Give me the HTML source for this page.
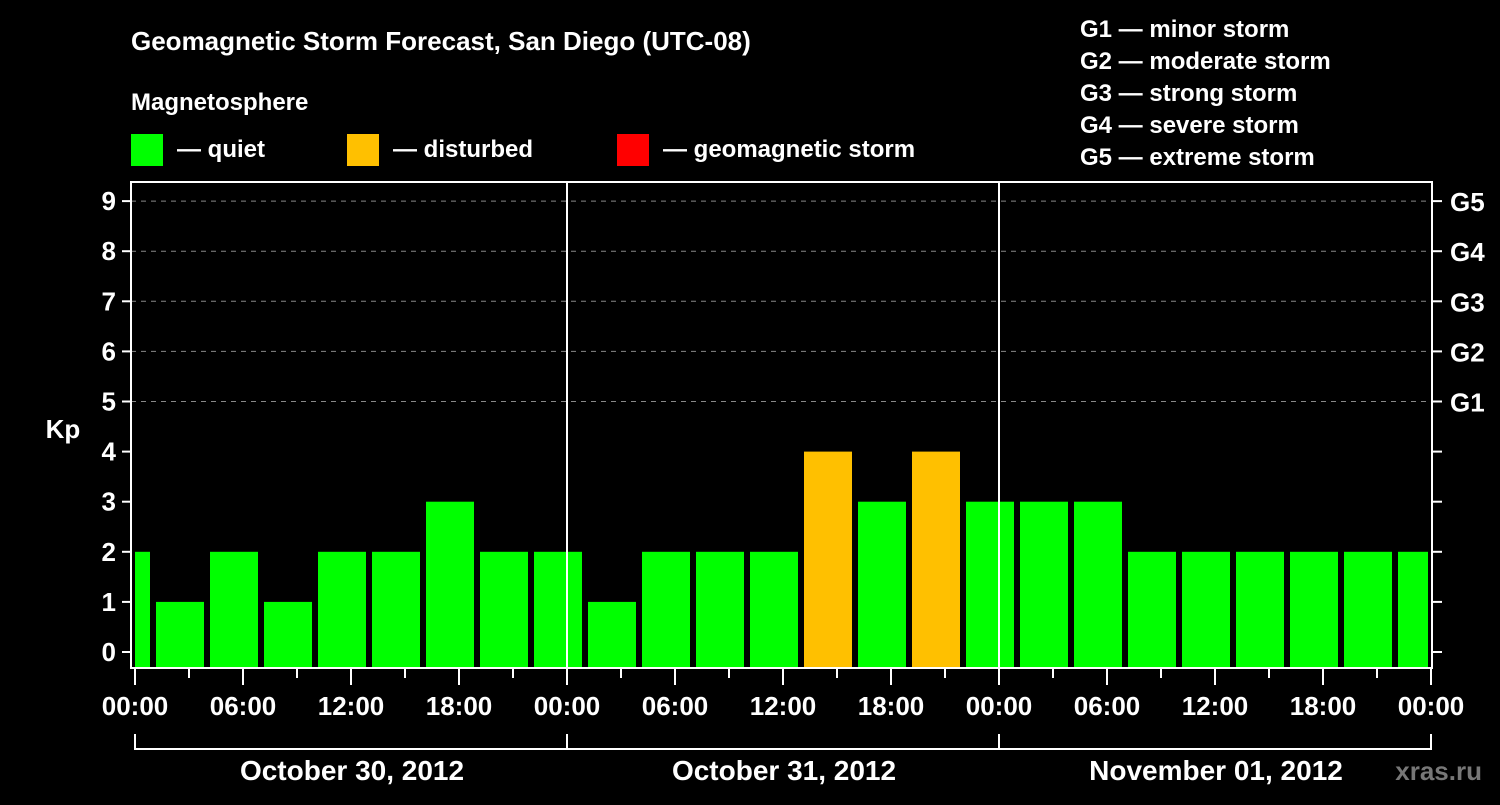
<!DOCTYPE html>
<html><head><meta charset="utf-8"><style>
html,body{margin:0;padding:0;background:#000;}
svg text{font-family:"Liberation Sans",sans-serif;font-weight:bold;fill:#fff;}
</style></head><body>
<svg id="chart" width="1500" height="800" xmlns="http://www.w3.org/2000/svg">
<rect width="1500" height="800" fill="#000"/>
<text x="131" y="50" font-size="26">Geomagnetic Storm Forecast, San Diego (UTC-08)</text>
<text x="131" y="110" font-size="24">Magnetosphere</text>
<g><rect x="131" y="134" width="32" height="32" fill="#00ff00"/><text x="177" y="157" font-size="24">— quiet</text></g>
<g><rect x="347" y="134" width="32" height="32" fill="#ffc000"/><text x="393" y="157" font-size="24">— disturbed</text></g>
<g><rect x="617" y="134" width="32" height="32" fill="#ff0000"/><text x="663" y="157" font-size="24">— geomagnetic storm</text></g>
<g font-size="24">
<text x="1080" y="37">G1 — minor storm</text>
<text x="1080" y="69">G2 — moderate storm</text>
<text x="1080" y="101">G3 — strong storm</text>
<text x="1080" y="133">G4 — severe storm</text>
<text x="1080" y="165">G5 — extreme storm</text>
</g>
<text x="63" y="438" font-size="26" text-anchor="middle">Kp</text>
<text x="1482" y="780" font-size="26" text-anchor="end" style="fill:#777">xras.ru</text>
<g id="grid"></g><g id="bars"></g><g id="axes"></g>
</svg>
<script>
const kpValues=[2,1,2,1,2,2,3,2,2,1,2,2,2,4,3,4,3,3,3,2,2,2,2,2,2];
const yTicks=[0,1,2,3,4,5,6,7,8,9];
const gLabels=["G1","G2","G3","G4","G5"];
const xTickLabels=["00:00","06:00","12:00","18:00","00:00","06:00","12:00","18:00","00:00","06:00","12:00","18:00","00:00"];
const dayLabels=["October 30, 2012","October 31, 2012","November 01, 2012"];
const NS="http://www.w3.org/2000/svg";
const x0=135, pxH=18, plotL=131, plotR=1432, plotT=182, plotB=668;
function xs(h){return x0+h*pxH;}
function ys(v){return 652-v*50.1;}
function mk(tag,attrs,parent){const e=document.createElementNS(NS,tag);for(const k in attrs)e.setAttribute(k,attrs[k]);parent.appendChild(e);return e;}
const grid=document.getElementById('grid'),bars=document.getElementById('bars'),axes=document.getElementById('axes');
for(let v=5;v<=9;v++){const l=mk('line',{x1:plotL,x2:plotR,y1:ys(v),y2:ys(v),stroke:'#888','stroke-width':1,'stroke-dasharray':'5,5'},grid);

}
kpValues.forEach((v,i)=>{
 let s=i===0?0:(i*3-2), e=i===0?1:Math.min(i*3+1,72);
 let a=xs(s)+(i===0?0:3), b=xs(e)-3;
 const c=v>=5?'#ff0000':(v>=4?'#ffc000':'#00ff00');
 const r=mk('rect',{x:a,y:ys(v),width:b-a,height:plotB-1-ys(v),fill:c},bars);
 
 
});
[1,2].forEach(d=>{const l=mk('line',{x1:xs(d*24),x2:xs(d*24),y1:plotT,y2:plotB,stroke:'#fff','stroke-width':2},axes);

});
const fr=mk('rect',{x:plotL,y:plotT,width:plotR-plotL,height:plotB-plotT,fill:'none',stroke:'#fff','stroke-width':2},axes);


yTicks.forEach(v=>{
 mk('line',{x1:122,x2:plotL,y1:ys(v),y2:ys(v),stroke:'#fff','stroke-width':2},axes);
 mk('line',{x1:plotR,x2:1442,y1:ys(v),y2:ys(v),stroke:'#fff','stroke-width':2},axes);
 const t=mk('text',{x:116,y:ys(v)+9,'font-size':26,'text-anchor':'end'},axes);t.textContent=v;
 
 
 if(v>=5){const g=mk('text',{x:1450,y:ys(v)+10,'font-size':26},axes);g.textContent=gLabels[v-5];
 
 }
});
for(let h=0;h<=72;h+=3){const major=h%6===0;
 mk('line',{x1:xs(h),x2:xs(h),y1:plotB,y2:major?685:678,stroke:'#fff','stroke-width':2},axes);}
xTickLabels.forEach((s,i)=>{const t=mk('text',{x:xs(i*6),y:715,'font-size':26,'text-anchor':'middle'},axes);t.textContent=s;
 
 });
mk('path',{d:`M${xs(0)} 734V749H${xs(72)}V734M${xs(24)} 734V749M${xs(48)} 734V749`,fill:'none',stroke:'#fff','stroke-width':2},axes);
dayLabels.forEach((s,i)=>{const t=mk('text',{x:xs(i*24+12)+1,y:780,'font-size':28,'text-anchor':'middle'},axes);t.textContent=s;
 
 });
</script>
</body></html>
